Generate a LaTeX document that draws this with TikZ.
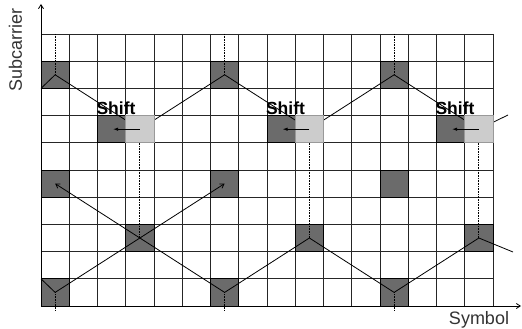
\documentclass[tikz,border=0pt]{standalone}
\usepackage{fontspec}
\setmainfont{Liberation Sans}
\usetikzlibrary{arrows.meta}
\definecolor{darkcell}{HTML}{6B6B6B}
\definecolor{lightcell}{HTML}{CCCCCC}
\begin{document}
\begin{tikzpicture}[x=1pt,y=-1pt,
  gridline/.style={line width=0.9pt,black!85},
  darkbox/.style={draw=black,line width=0.9pt,fill=darkcell,minimum width=28.25pt,minimum height=27.2pt,inner sep=0pt,outer sep=0pt},
  lightbox/.style={draw=black!40,line width=0.9pt,fill=lightcell,minimum width=28.25pt,minimum height=27.2pt,inner sep=0pt,outer sep=0pt},
  link/.style={line width=0.8pt,black},
  dotlink/.style={line width=0.8pt,black,dash pattern=on 1pt off 0.6pt},
  arrowlink/.style={link,-{Straight Barb[length=4pt,width=5pt]}},
  shiftarrow/.style={line width=0.8pt,-{Latex[length=5pt,width=3.5pt]}},
  axisline/.style={line width=0.8pt,-{Straight Barb[length=4pt,width=5pt]}},
  shiftlbl/.style={font=\fontsize{17.5}{17.5}\selectfont\bfseries,inner sep=0pt},
  axislbl/.style={font=\fontsize{18}{18}\selectfont,text=black!80,inner sep=0pt}]

\fill[white] (0,0) rectangle (522,329);
\useasboundingbox (0,0) rectangle (522,329);

% grid
\foreach \i in {0,...,16} \draw[gridline] ({41+28.25*\i},34) -- ({41+28.25*\i},306);
\foreach \j in {0,...,10} \draw[gridline] (41,{34+27.2*\j}) -- (493,{34+27.2*\j});

% cell centres
\foreach \c in {0,...,15} {
  \foreach \r in {0,...,9} {
    \coordinate (p-\c-\r) at ({41+28.25*(\c+0.5)},{34+27.2*(\r+0.5)});
  }
}
\coordinate (gridtop) at (41,34);
\coordinate (gridbot) at (41,311);
\coordinate (O) at (41,306);
\coordinate (yend) at (41,4);
\coordinate (xend) at (521,306);
\coordinate (out1) at (508,115);
\coordinate (out2) at (513,252);

% axes
\draw[axisline] (O) -- (yend);
\draw[axisline] (O) -- (xend);

% dark cells
\foreach \c/\r in {0/1,6/1,12/1,2/3,8/3,14/3,0/5,6/5,12/5,3/7,9/7,15/7,0/9,6/9,12/9}
  \node[darkbox] (d\c-\r) at (p-\c-\r) {};

% connectors
\draw[link] (d0-1.south west) -- (d0-1.center) -- (p-3-3) -- (d6-1.center) -- (p-9-3) -- (d12-1.center) -- (p-15-3) -- (out1);
\draw[link] (d0-9.north west) -- (d0-9.center);
\draw[arrowlink] (d0-9.center) -- (d6-5.center);
\draw[arrowlink] (d6-9.center) -- (d0-5.center);
\draw[link] (d6-9.center) -- (d9-7.center) -- (d12-9.center) -- (d15-7.center) -- (out2);
\foreach \c in {0,6,12} {
  \draw[dotlink] (d\c-1.center |- gridtop) -- (d\c-1.center);
  \draw[dotlink] (d\c-9.center) -- (d\c-9.center |- gridbot);
}

% light (shifted) cells
\foreach \c in {3,9,15}
  \node[lightbox] (l\c-3) at (p-\c-3) {};
\foreach \c/\d in {3/2,9/8,15/14} {
  \draw[dotlink] (l\c-3.south) -- (d\c-7.center);
  \draw[shiftarrow] (l\c-3.center) -- ([xshift=1.5pt]d\d-3.center);
}

% labels
\node[shiftlbl] (s1) at (116,108) {Shift};
\node[shiftlbl] (s2) at (285.5,108) {Shift};
\node[shiftlbl] (s3) at (455,108) {Shift};
\node[axislbl,rotate=90] (ylab) at (15.5,50) {Subcarrier};
\node[axislbl] (xlab) at (479,320) {Symbol};
\end{tikzpicture}
\end{document}
